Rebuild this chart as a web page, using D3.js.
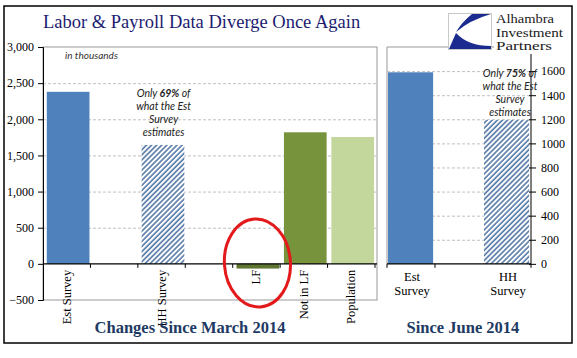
<!DOCTYPE html>
<html><head><meta charset="utf-8">
<script src="https://cdn.jsdelivr.net/npm/d3@7"></script>
<style>
body{margin:0;background:#fff;}
svg{display:block;}
</style></head>
<body><svg id="c" width="577" height="358"></svg>
<script>
// ---- data ----
const leftCategories = ["Est Survey", "gap1", "HH Survey", "gap2", "LF", "Not in LF", "Population"];
const leftLabels = ["Est Survey", "", "HH Survey", "", "LF", "Not in LF", "Population"];
const leftValues = [2380, null, 1645, null, -65, 1820, 1755];
const leftTicks = [-500, 0, 500, 1000, 1500, 2000, 2500, 3000];
const rightCategories = ["Est Survey", "gap", "HH Survey"];
const rightLabels = [["Est", "Survey"], [], ["HH", "Survey"]];
const rightValues = [1590, null, 1195];
const rightTicks = [0, 200, 400, 600, 800, 1000, 1200, 1400, 1600];

const fills = {"Est Survey":"#4f81bd","HH Survey":"url(#hatch)","LF":"#5f7633","Not in LF":"#77933c","Population":"#c3d69b"};

const svg = d3.select("#c");
const defs = svg.append("defs");
const pat = defs.append("pattern").attr("id","hatch").attr("patternUnits","userSpaceOnUse")
  .attr("width",3.6).attr("height",3.6).attr("patternTransform","rotate(45)");
pat.append("rect").attr("width",3.6).attr("height",3.6).attr("fill","#fff");
pat.append("line").attr("x1",1).attr("x2",1).attr("y1",0).attr("y2",3.6)
  .attr("stroke","#4a6fa0").attr("stroke-width",1.5);

const serif = "'Liberation Serif', 'Times New Roman', serif";
const sans = "Lato, 'Open Sans', sans-serif";

// outer border
svg.append("rect").attr("x",4).attr("y",6).attr("width",568).attr("height",337)
  .attr("fill","none").attr("stroke","#000").attr("stroke-width",1.5);

// title
svg.append("text").attr("x",43).attr("y",28).text("Labor & Payroll Data Diverge Once Again")
  .attr("font-family",serif).attr("font-size",18.5).attr("fill","#1c1c70");

// ---- left panel ----
const L = {x0:43, x1:377, top:47, bottom:300, axisEnd:375};
const yL = d3.scaleLinear().domain([-500,3000]).range([L.bottom, L.top]);
const xL = d3.scaleBand().domain(leftCategories).range([L.x0, L.axisEnd]).paddingInner(0).paddingOuter(0);
const gL = svg.append("g");

gL.append("rect").attr("x",L.x0).attr("y",L.top).attr("width",L.x1-L.x0).attr("height",L.bottom-L.top)
  .attr("fill","none").attr("stroke","#999").attr("stroke-width",1);
gL.selectAll("line.grid").data(leftTicks.filter(t=>t>0 && t<3000)).join("line")
  .attr("x1",L.x0).attr("x2",L.x1).attr("y1",d=>yL(d)+0.5).attr("y2",d=>yL(d)+0.5)
  .attr("stroke","#c0c0c0").attr("stroke-dasharray","3,2").attr("stroke-width",1);

const bw = xL.bandwidth();
gL.selectAll("rect.bar").data(leftCategories.map((c,i)=>({c, v:leftValues[i]})).filter(d=>d.v!==null)).join("rect")
  .attr("x",d=>xL(d.c)+bw*0.08).attr("width",bw*0.9)
  .attr("y",d=>yL(Math.max(0,d.v))).attr("height",d=>Math.abs(yL(d.v)-yL(0)))
  .attr("fill",d=>fills[d.c]);

const axL = d3.axisLeft(yL).tickValues(leftTicks).tickSize(5).tickPadding(4).tickFormat(d3.format(","));
const gAxL = gL.append("g").attr("transform",`translate(${L.x0},0)`).call(axL);
gAxL.select(".domain").attr("stroke","#000");
gAxL.selectAll("text").attr("font-family",serif).attr("font-size",12).attr("fill","#000");

gL.append("line").attr("x1",L.x0).attr("x2",L.x1).attr("y1",yL(0)).attr("y2",yL(0)).attr("stroke","#000").attr("stroke-width",1.3);
const bounds = leftCategories.map(c=>xL(c)).slice(1).concat([L.axisEnd]);
gL.selectAll("line.ct").data(bounds).join("line")
  .attr("x1",d=>d).attr("x2",d=>d).attr("y1",yL(0)).attr("y2",yL(0)+4).attr("stroke","#000");
gL.selectAll("text.cl").data(leftCategories.map((c,i)=>({c,l:leftLabels[i]})).filter(d=>d.l)).join("text")
  .attr("transform",d=>`translate(${xL(d.c)+bw/2+4},${yL(0)+6}) rotate(-90)`)
  .attr("text-anchor","end").attr("font-family",serif).attr("font-size",12.5).attr("fill","#000")
  .text(d=>d.l);

gL.append("text").attr("x",65).attr("y",59).text("in thousands")
  .attr("font-family",sans).attr("font-style","italic").attr("font-size",10).attr("fill","#333");

function note(g, cx, y0, pct){
  const t = g.append("text").attr("text-anchor","middle").attr("font-family",sans)
    .attr("font-style","italic").attr("font-size",10.5).attr("fill","#222");
  const l1 = t.append("tspan").attr("x",cx).attr("y",y0);
  l1.append("tspan").text("Only ");
  l1.append("tspan").attr("font-weight","bold").text(pct);
  l1.append("tspan").text(" of");
  ["what the Est","Survey","estimates"].forEach((s,i)=>{
    t.append("tspan").attr("x",cx).attr("y",y0+13*(i+1)).text(s);
  });
}
note(gL, xL("HH Survey")+bw/2+2, 97, "69%");

gL.append("ellipse").attr("cx",xL("LF")+bw/2+1).attr("cy",263).attr("rx",33).attr("ry",44)
  .attr("fill","none").attr("stroke","#e3191c").attr("stroke-width",3)
  .attr("transform",`rotate(-4 ${xL("LF")+bw/2+1} 263)`);

svg.append("text").attr("x",190).attr("y",333).attr("text-anchor","middle").text("Changes Since March 2014")
  .attr("font-family",serif).attr("font-weight","bold").attr("font-size",16.5).attr("fill","#213a63");

// ---- right panel ----
const R = {x0:387, x1:531, top:47, bottom:300};
const yR = d3.scaleLinear().domain([-300,1800]).range([R.bottom, R.top]);
const xR = d3.scaleBand().domain(rightCategories).range([R.x0, R.x1]);
const gR = svg.append("g");
const bwR = xR.bandwidth();

gR.append("line").attr("x1",R.x0).attr("x2",R.x1).attr("y1",R.top).attr("y2",R.top).attr("stroke","#999");
gR.append("line").attr("x1",R.x0).attr("x2",R.x0).attr("y1",R.top).attr("y2",yR(0)).attr("stroke","#999");
gR.selectAll("line.grid").data(rightTicks.filter(t=>t>0)).join("line")
  .attr("x1",R.x0).attr("x2",R.x1).attr("y1",d=>yR(d)+0.5).attr("y2",d=>yR(d)+0.5)
  .attr("stroke","#c0c0c0").attr("stroke-dasharray","3,2");
gR.selectAll("rect.bar").data(rightCategories.map((c,i)=>({c, v:rightValues[i]})).filter(d=>d.v!==null)).join("rect")
  .attr("x",d=>xR(d.c)+1).attr("width",bwR*0.94)
  .attr("y",d=>yR(d.v)).attr("height",d=>yR(0)-yR(d.v))
  .attr("fill",d=>fills[d.c]);

const axR = d3.axisRight(yR).tickValues(rightTicks).tickSize(5).tickPadding(5).tickFormat(d3.format("d"));
const gAxR = gR.append("g").attr("transform",`translate(${R.x1},0)`).call(axR);
gAxR.select(".domain").remove();
gAxR.selectAll("line").attr("x1",-2);
gAxR.selectAll("text").attr("font-family",serif).attr("font-size",12).attr("fill","#000");
gR.append("line").attr("x1",R.x1).attr("x2",R.x1).attr("y1",R.top).attr("y2",yR(0)).attr("stroke","#000");

gR.append("line").attr("x1",R.x0).attr("x2",R.x1).attr("y1",yR(0)).attr("y2",yR(0)).attr("stroke","#000").attr("stroke-width",1.3);
gR.selectAll("line.ct").data([R.x0, xR("gap"), R.x1]).join("line")
  .attr("x1",d=>d).attr("x2",d=>d).attr("y1",yR(0)).attr("y2",yR(0)+4).attr("stroke","#000");
gR.selectAll("text.cl").data(rightCategories.map((c,i)=>({c,l:rightLabels[i]})).filter(d=>d.l.length)).join("text")
  .attr("text-anchor","middle").attr("font-family",serif).attr("font-size",12.5).attr("fill","#000")
  .each(function(d){
    const t = d3.select(this);
    d.l.forEach((s,i)=>t.append("tspan").attr("x",xR(d.c)+bwR/2+1).attr("y",yR(0)+17+i*14).text(s));
  });

note(gR, xR("HH Survey")+bwR/2+3, 77, "75%");

svg.append("text").attr("x",463).attr("y",333).attr("text-anchor","middle").text("Since June 2014")
  .attr("font-family",serif).attr("font-weight","bold").attr("font-size",16.5).attr("fill","#213a63");

// ---- logo ----
const lg = svg.append("g");
lg.append("rect").attr("x",494).attr("y",12).attr("width",75).attr("height",42).attr("fill","#fff");
lg.append("rect").attr("x",448.5).attr("y",13.5).attr("width",43).attr("height",36)
  .attr("fill","#fff").attr("stroke","#c8c8c8").attr("stroke-width",1);
lg.append("path").attr("d","M472,14 L491,14 Q470,20 456,32 Q462,22 472,14 Z").attr("fill","#1b2b8f");
lg.append("path").attr("d","M456,33 Q452,42 449,49 L491,49 L491,46 Q468,46 456,33 Z").attr("fill","#1b2b8f");
const logoLines = [["Alhambra",58],["Investment",67],["Partners",56]];
logoLines.forEach(([s,w],i)=>{
  lg.append("text").attr("x",496).attr("y",23+i*13.6).text(s)
    .attr("textLength",w).attr("lengthAdjust","spacingAndGlyphs")
    .attr("font-family",serif).attr("font-size",11.6).attr("fill","#1a1a1a");
});
</script></body></html>
